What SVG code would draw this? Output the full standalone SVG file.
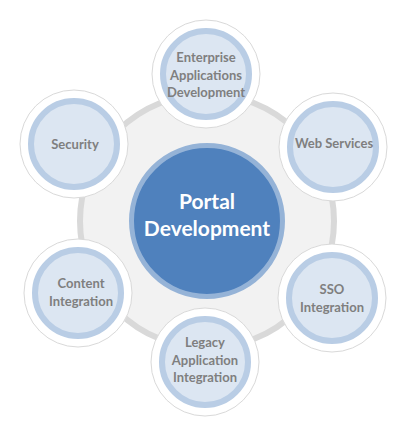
<svg xmlns="http://www.w3.org/2000/svg" width="413" height="436" viewBox="0 0 413 436">
<style>
.bg{fill:#f2f2f2;stroke:#d9d9d9;stroke-width:6}
.outer{fill:#ffffff;stroke:#d9d9d9;stroke-width:1}
.inner{fill:#dce6f2;stroke:#b9cde5;stroke-width:6}
.lbl{font-family:Lato,"Liberation Sans",sans-serif;font-weight:bold;font-size:13px;fill:#7f7f7f;text-anchor:middle}
.ctr{font-family:Lato,"Liberation Sans",sans-serif;font-weight:bold;font-size:21px;fill:#ffffff;text-anchor:middle}
</style>
<rect width="413" height="436" fill="#ffffff"/>
<g id="ring">
<circle class="bg" cx="207" cy="221" r="127"/>
</g>
<g id="connectors"></g>
<g id="center">
<circle cx="207" cy="221" r="75.5" fill="#4f81bd" stroke="#95b3d7" stroke-width="5"/>
<text class="ctr" x="207" y="209">Portal</text>
<text class="ctr" x="207" y="236">Development</text>
</g>
<g id="enterprise">
<circle class="outer" cx="206" cy="74" r="54"/>
<circle class="inner" cx="206" cy="74" r="43"/>
<text class="lbl" x="206" y="62">Enterprise</text>
<text class="lbl" x="206" y="80">Applications</text>
<text class="lbl" x="206" y="97">Development</text>
</g>
<g id="webservices">
<circle class="outer" cx="333" cy="147" r="54"/>
<circle class="inner" cx="333" cy="147" r="43"/>
<text class="lbl" x="334" y="148">Web Services</text>
</g>
<g id="sso">
<circle class="outer" cx="332" cy="298" r="54"/>
<circle class="inner" cx="332" cy="298" r="43"/>
<text class="lbl" x="332" y="294">SSO</text>
<text class="lbl" x="332" y="312">Integration</text>
</g>
<g id="legacy">
<circle class="outer" cx="205" cy="362" r="54"/>
<circle class="inner" cx="205" cy="362" r="43"/>
<text class="lbl" x="205" y="347">Legacy</text>
<text class="lbl" x="205" y="365">Application</text>
<text class="lbl" x="205" y="382">Integration</text>
</g>
<g id="content">
<circle class="outer" cx="78" cy="293" r="54"/>
<circle class="inner" cx="78" cy="293" r="43"/>
<text class="lbl" x="81" y="288">Content</text>
<text class="lbl" x="81" y="306">Integration</text>
</g>
<g id="security">
<circle class="outer" cx="74" cy="144" r="54"/>
<circle class="inner" cx="74" cy="144" r="43"/>
<text class="lbl" x="75" y="149">Security</text>
</g>
</svg>
